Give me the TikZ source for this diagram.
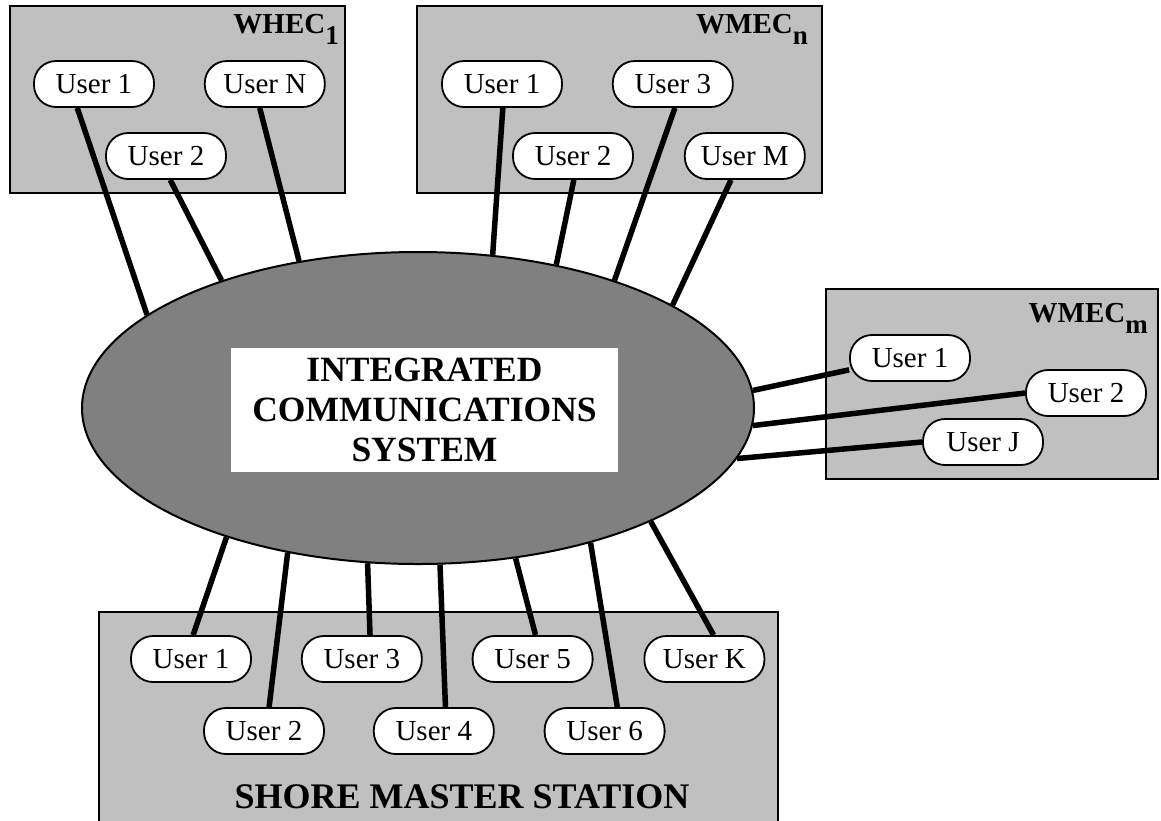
\documentclass[tikz,border=0pt]{standalone}
\usepackage{fontspec}
\setmainfont{Liberation Serif}
\usetikzlibrary{positioning,shapes.geometric}
\definecolor{boxgray}{RGB}{192,192,192}
\definecolor{netgray}{RGB}{128,128,128}
\tikzstyle{site} = [draw, fill=boxgray, line width=2pt]
\tikzstyle{user} = [draw, fill=white, rectangle, rounded corners=22pt, minimum width=120pt, minimum height=46pt, inner sep=0pt, line width=1.8pt, font=\fontsize{29}{32}\selectfont]
\tikzstyle{link} = [line width=5.5pt]
\tikzstyle{sitename} = [anchor=base east, inner sep=0pt, font=\fontsize{29}{32}\selectfont\bfseries]
\newcommand{\sitesub}[1]{\raisebox{-11pt}{\fontsize{27}{28}\selectfont #1}}

\begin{document}
\begin{tikzpicture}[x=1pt,y=-1pt,node distance=49pt]
		\useasboundingbox (0,0) rectangle (1161,820);
		% the four sites
		\draw[site] (10,6) rectangle (345,193);
		\draw[site] (417,6) rectangle (822,193);
		\draw[site] (826,289) rectangle (1158,479);
		\draw[site] (99,612) rectangle (778,826);
		\node (whec) [sitename] at (339,33) {WHEC\sitesub{1}};
		\node (wmecn) [sitename] at (808,33) {WMEC\sitesub{n}};
		\node (wmecm) [sitename] at (1148,322) {WMEC\sitesub{m}};
		\node (shore) [font=\fontsize{36}{40}\selectfont\bfseries] at (462,797) {SHORE MASTER STATION};
		
		% network
		\node (ics) [ellipse, draw, fill=netgray, line width=2pt, minimum width=672pt, minimum height=312pt, inner sep=0pt] at (418,408) {};
		\node (title) [fill=white, minimum width=387pt, minimum height=124pt, inner sep=0pt, align=center, font=\fontsize{35.5}{40}\selectfont\bfseries] at (424.5,410) {INTEGRATED\\COMMUNICATIONS\\SYSTEM};
		
		% users
		\node (h1) [user] at (94,84) {User 1};
		\node (hN) [user, right=of h1] {User N};
		\node (h2) [user] at (166,156) {User 2};
		
		\node (n1) [user] at (502,84) {User 1};
		\node (n3) [user, right=of n1] {User 3};
		\node (n2) [user] at (573,156) {User 2};
		\node (nM) [user, right=50pt of n2] {User M};
		
		\node (m1) [user] at (910,358) {User 1};
		\node (m2) [user] at (1086,393) {User 2};
		\node (mJ) [user] at (983,442) {User J};
		
		\node (s1) [user] at (191,659) {User 1};
		\node (s3) [user, right=of s1] {User 3};
		\node (s5) [user, right=of s3] {User 5};
		\node (sK) [user, right=50pt of s5] {User K};
		\node (s2) [user] at (264,731) {User 2};
		\node (s4) [user, right=48pt of s2] {User 4};
		\node (s6) [user, right=of s4] {User 6};
		
		% links
		\draw[link] (h1.235) -- (ics.161.7);
		\draw[link] (h2.280) -- (ics.147.7);
		\draw[link] (hN.258) -- (ics.129.6);
		
		\draw[link] (n1.272) -- (ics.64);
		\draw[link] (n2.272) -- (ics.46.8);
		\draw[link] (n3.275) -- (ics.33.6);
		\draw[link] (nM.240) -- (ics.22.6);
		
		\draw[link] (m1.191) -- (ics.3.4);
		\draw[link] (m2.west) -- (ics.-3.3);
		\draw[link] (mJ.west) -- (ics.-9.5);
		
		\draw[link] (s1.85) -- (ics.-146.9);
		\draw[link] (s2.78) -- (ics.-132.9);
		\draw[link] (s3.71) -- (ics.-108);
		\draw[link] (s4.64) -- (ics.-82.7);
		\draw[link] (s5.83) -- (ics.-57.2);
		\draw[link] (s6.62) -- (ics.-38.5);
		\draw[link] (sK.69) -- (ics.-26.5);
	\end{tikzpicture}
\end{document}
